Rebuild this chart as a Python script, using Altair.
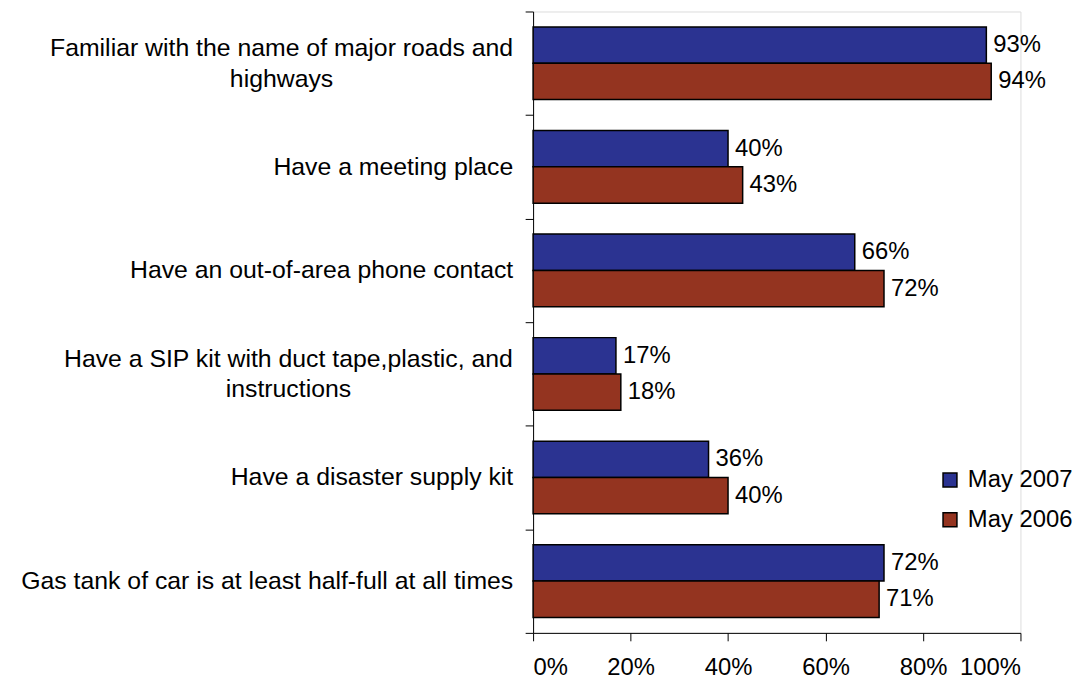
import altair as alt
import pandas as pd

# ---- data ----
categories = [
    "Familiar with the name of major roads and highways",
    "Have a meeting place",
    "Have an out-of-area phone contact",
    "Have a SIP kit with duct tape,plastic, and instructions",
    "Have a disaster supply kit",
    "Gas tank of car is at least half-full at all times",
]
label_lines = [
    ["Familiar with the name of major roads and", "highways"],
    ["Have a meeting place"],
    ["Have an out-of-area phone contact"],
    ["Have a SIP kit with duct tape,plastic, and", "instructions"],
    ["Have a disaster supply kit"],
    ["Gas tank of car is at least half-full at all times"],
]
series_names = ["May 2007", "May 2006"]
may_2007 = [93, 40, 66, 17, 36, 72]
may_2006 = [94, 43, 72, 18, 40, 71]
tick_values = [0, 20, 40, 60, 80, 100]

BLUE = "#2B3391"
RED = "#943420"
FONT = "Liberation Sans"
LABEL_SIZE = 25
TICK_SIZE = 24
LINE_H = 31

# Arial/Helvetica advance widths (1/1000 em), used to centre wrapped label lines
_W = {" ": 278, ",": 278, "-": 333, ".": 278, "%": 889,
      "a": 556, "b": 556, "c": 500, "d": 556, "e": 556, "f": 278, "g": 556, "h": 556,
      "i": 222, "j": 222, "k": 500, "l": 222, "m": 833, "n": 556, "o": 556, "p": 556,
      "q": 556, "r": 333, "s": 500, "t": 278, "u": 556, "v": 500, "w": 722, "x": 500,
      "y": 500, "z": 500, "A": 667, "F": 611, "G": 778, "H": 722, "I": 278, "P": 667,
      "S": 667}


def text_width(s, size):
    return sum(_W.get(ch, 556) for ch in s) * size / 1000.0


rows = []
for c, a, b in zip(categories, may_2007, may_2006):
    rows.append({"cat": c, "series": series_names[0], "value": a})
    rows.append({"cat": c, "series": series_names[1], "value": b})
df = pd.DataFrame(rows)
df["label"] = df["value"].astype(str) + "%"

lab_df = pd.DataFrame({
    "cat": categories,
    "text": ["\n".join(l) for l in label_lines],
    "nlines": [len(l) for l in label_lines],
})

W, H = 491, 626
GAP = 20

y_enc = alt.Y("cat:N", sort=categories,
              scale=alt.Scale(paddingInner=0, paddingOuter=0),
              axis=alt.Axis(labels=False, title=None, tickBand="extent", tickSize=8,
                            tickColor="black", domainColor="black", grid=False))
yoff = alt.YOffset("series:N", sort=series_names,
                   scale=alt.Scale(paddingInner=0, paddingOuter=0.425))
x_enc = alt.X("value:Q", scale=alt.Scale(domain=[0, 100]),
              axis=alt.Axis(values=tick_values, labelExpr="datum.value + '%'",
                            title=None, grid=False, tickSize=8, tickColor="black",
                            domainColor="black", labelColor="black",
                            labelFontSize=TICK_SIZE, labelFont=FONT, labelPadding=15))

bars = alt.Chart(df).mark_bar(stroke="black", strokeWidth=1.5).encode(
    x=x_enc,
    y=y_enc,
    yOffset=yoff,
    color=alt.Color("series:N", sort=series_names,
                    scale=alt.Scale(domain=series_names, range=[BLUE, RED]),
                    legend=alt.Legend(title=None, orient="none", legendX=408, legendY=460,
                                      symbolType="square", symbolSize=196,
                                      symbolStrokeColor="black", symbolStrokeWidth=1.5,
                                      labelFontSize=TICK_SIZE, labelFont=FONT,
                                      labelColor="black", rowPadding=16,
                                      labelOffset=6)),
)

values = alt.Chart(df).mark_text(align="left", baseline="middle", dx=7,
                                 fontSize=TICK_SIZE, font=FONT, color="black").encode(
    x="value:Q",
    y=alt.Y("cat:N", sort=categories),
    yOffset=alt.YOffset("series:N", sort=series_names),
    text="label:N",
)

layers = [bars, values]

single = alt.Chart(lab_df).transform_filter("datum.nlines == 1").mark_text(
    align="right", baseline="middle", fontSize=LABEL_SIZE, font=FONT, color="black"
).encode(x=alt.value(-GAP), y=alt.Y("cat:N", sort=categories), text="text:N")
layers.append(single)

for cat, lines in zip(categories, label_lines):
    if len(lines) < 2:
        continue
    wmax = max(text_width(s, LABEL_SIZE) for s in lines)
    multi = alt.Chart(lab_df).transform_filter(
        alt.FieldEqualPredicate(field="cat", equal=cat)
    ).mark_text(align="center", baseline="middle", lineBreak="\n", lineHeight=LINE_H,
                dy=-LINE_H * (len(lines) - 1) / 2,
                fontSize=LABEL_SIZE, font=FONT, color="black").encode(
        x=alt.value(-GAP - wmax / 2), y=alt.Y("cat:N", sort=categories), text="text:N")
    layers.append(multi)

chart = alt.layer(*layers).properties(
    width=W, height=H,
    autosize=alt.AutoSizeParams(type="none"),
    padding={"left": 529, "top": 1, "right": 62, "bottom": 50},
).configure_view(stroke=None).configure(background="white")

chart.save("out.html", embed_options={"renderer": "svg", "actions": False})
